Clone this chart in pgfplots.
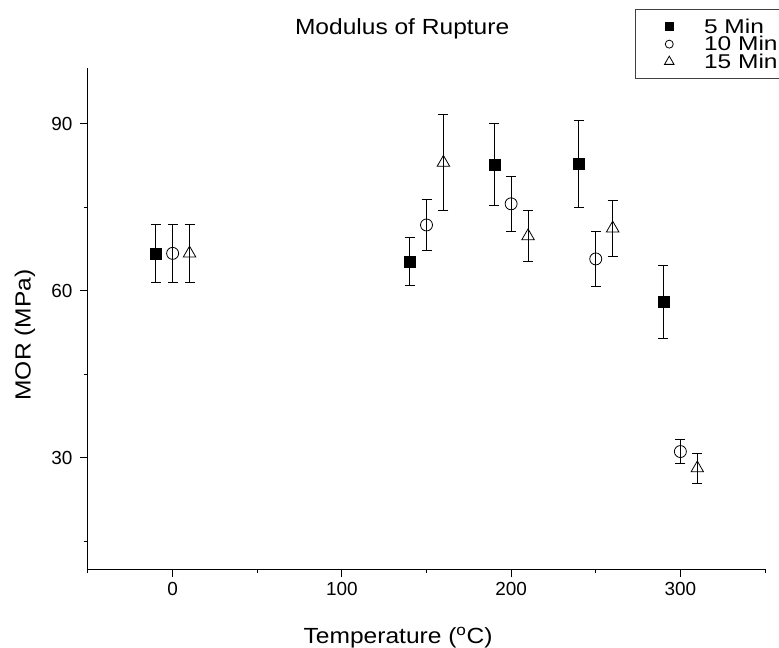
\documentclass[border=0pt]{standalone}
\usepackage{fontspec}
\setmainfont{Liberation Sans}
\newfontfamily\widefont[FakeStretch=1.12]{Liberation Sans}
\newfontfamily\legfont[FakeStretch=1.23]{Liberation Sans}
\usepackage{pgfplots}
\usepackage{pgfplotstable}
\pgfplotsset{compat=1.18}

% temperature, MOR, error
\pgfplotstableread{
x y e
-10 66.7 5.2
140 65.2 4.3
190 82.7 7.4
240 82.8 7.8
290 58.0 6.6
}\fivemin
\pgfplotstableread{
x y e
0 66.7 5.2
150 71.8 4.6
200 75.6 5.0
250 65.7 5.0
300 31.1 2.2
}\tenmin
\pgfplotstableread{
x y e
10 66.7 5.2
160 83.0 8.6
210 69.8 4.6
260 71.2 5.0
310 28.1 2.7
}\fifteenmin

\pgfplotsset{
    legmark/.style={legend image code/.code={\draw[##1, mark size=#1] plot coordinates {(0bp,0bp)};}},
}
\newcommand{\legtext}[1]{\makebox[100bp][l]{#1}}

\begin{document}
\begin{tikzpicture}
\begin{axis}[
    at={(0,0)}, anchor=south west,
    scale only axis,
    width=677bp, height=501bp,
    xmin=-50, xmax=350,
    ymin=10, ymax=100,
    axis lines*=left,
    axis line style={line width=1bp},
    xtick={0,100,200,300},
    minor xtick={-50,50,150,250,350},
    ytick={30,60,90},
    minor ytick={15,45,75},
    tick align=outside,
    major tick length=8bp,
    minor tick length=4bp,
    tick style={line width=1bp, black},
    /pgf/number format/assume math mode=true,
    tick label style={font=\fontsize{19}{20}\selectfont},
    xticklabel style={yshift=-2bp},
    yticklabel style={xshift=-4bp},
    xlabel={Temperature (\textsuperscript{o}C)},
    ylabel={MOR (MPa)},
    label style={font=\widefont\fontsize{22}{24}\selectfont},
    xlabel style={at={(rel axis cs:0.458,-0.148)}, anchor=base},
    ylabel style={at={(rel axis cs:-0.093,0.467)}, anchor=center},
    title={Modulus of Rupture},
    title style={font=\widefont\fontsize{22}{24}\selectfont,
        at={(rel axis cs:0.464,1.054)}, anchor=base},
    clip=false,
    legend style={at={(rel axis cs:0.808,1.118)}, anchor=north west,
        draw=black!75, line width=1bp,
        font=\legfont\fontsize{20}{20}\selectfont,
        nodes={inner sep=2bp, text height=13.5bp, text depth=0bp},
        row sep=0pt, column sep=28bp, inner xsep=29bp, inner ysep=8.5bp},
    legend cell align=left,
    legmark=4bp,
    error bars/y dir=both,
    error bars/y explicit,
    error bars/error mark options={rotate=90, mark size=5bp, line width=0.8bp, black},
    error bars/error bar style={line width=0.8bp, black},
]
\addplot[only marks, mark=square*, mark size=5.5bp, mark options={fill=black, draw=black}]
    table[x=x, y=y, y error=e] {\fivemin};
\addlegendentry{\legtext{5 Min}}
\addplot[only marks, mark=o, mark size=6bp, mark options={fill=white, draw=black, line width=0.8bp}]
    table[x=x, y=y, y error=e] {\tenmin};
\addlegendentry{\legtext{10 Min}}
\addplot[only marks, mark=triangle, mark size=7.2bp, mark options={fill=white, draw=black, line width=0.8bp},
    legmark=5.5bp]
    table[x=x, y=y, y error=e] {\fifteenmin};
\addlegendentry{\legtext{15 Min}}
\end{axis}
\pgfresetboundingbox
\useasboundingbox (-88bp,-79bp) rectangle (691bp,569bp);
\end{tikzpicture}
\end{document}
